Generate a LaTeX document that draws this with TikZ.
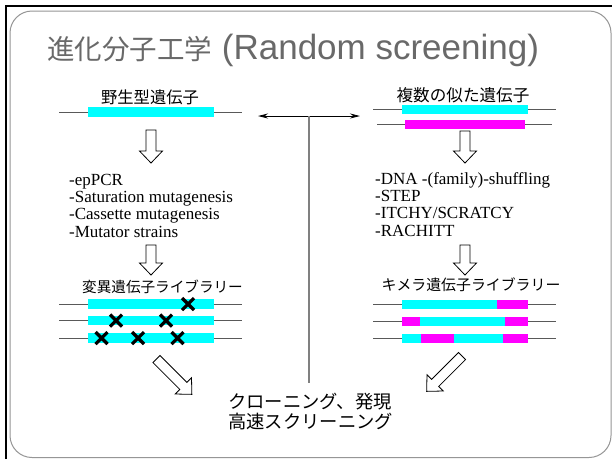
\documentclass[tikz,border=0pt]{standalone}
\usepackage{fontspec}
\setmainfont{Liberation Serif}
\newfontfamily\jp{Noto Sans CJK JP}
\newfontfamily\arialf{Liberation Sans}
\usetikzlibrary{arrows.meta}
\definecolor{cy}{RGB}{0,255,255}
\definecolor{mg}{RGB}{255,0,255}
\definecolor{titlegray}{RGB}{105,105,105}
\definecolor{framegray}{RGB}{150,150,150}
\tikzset{
  gline/.style={draw=black!65, line width=1},
  jplabel/.style={inner sep=0},
  method/.style={inner sep=0, anchor=base west, font=\fontsize{17}{17}\selectfont},
  hollow/.style={draw=black, fill=white, line width=0.8, line join=miter},
  pics/downarrow/.style={code={\draw[hollow] (-5,0) -- (-5,#1-12) -- (-11.5,#1-12) -- (0,#1) -- (11.5,#1-12) -- (5,#1-12) -- (5,0) -- cycle;}},
  pics/xmark/.style={code={\draw[line width=3.2] (-6,-6) -- (6,6) (-6,6) -- (6,-6);}},
  dtip/.style={{Stealth[length=10pt,width=5pt]}-{Stealth[length=10pt,width=5pt]}, line width=0.9},
}
\begin{document}
\begin{tikzpicture}[x=1pt,y=-1pt]
\useasboundingbox (0,0) rectangle (612,459);
\fill[white] (0,0) rectangle (612,459);
% frames
\draw[framegray, line width=1, rounded corners=22] (10,11) rectangle (611,457.5);
\draw[black, line width=2] (6,459) -- (6,6) -- (612,6);
% title
\node[inner sep=0, anchor=base west, text=titlegray] (title) at (47,59)
  {{\jp\fontsize{27.5}{32}\selectfont 進化分子工学}{\arialf\fontsize{35}{38}\selectfont\ (Random screening)}};
% left: wild type gene
\node[jplabel, font=\jp\fontsize{16.3}{18}\selectfont] (wt) at (150,97) {野生型遺伝子};
\draw[gline] (59,112) -- (242,112);
\fill[cy] (88,107) rectangle (214,116.5);
\pic at (151,130) {downarrow=33};
\node[method] (m1) at (69,185) {-epPCR};
\node[method] (m2) at (69,202) {-Saturation mutagenesis};
\node[method] (m3) at (69,219) {-Cassette mutagenesis};
\node[method] (m4) at (69,237) {-Mutator strains};
\pic at (151,245) {downarrow=30};
\node[jplabel, font=\jp\fontsize{14.6}{16}\selectfont] (mlib) at (162.5,287) {変異遺伝子ライブラリー};
\foreach \yy in {304,320.5,338}{
  \draw[gline] (59,\yy) -- (242,\yy);
  \fill[cy] (88,\yy-4.75) rectangle (214,\yy+4.75);
}
\pic at (188,304) {xmark};
\pic at (116,320.5) {xmark};
\pic at (166,320.5) {xmark};
\pic at (101.5,338) {xmark};
\pic at (138,338) {xmark};
\pic at (177.5,338) {xmark};
% right: similar genes
\node[jplabel, font=\jp\fontsize{16.6}{18}\selectfont] (sg) at (463,95) {複数の似た遺伝子};
\draw[gline] (373,109.3) -- (556,109.3);
\fill[cy] (402,105) rectangle (528,113.5);
\draw[gline] (377,124) -- (552,124);
\fill[mg] (405,119.7) rectangle (525,128.7);
\pic at (465,131) {downarrow=32};
\node[method] (r1) at (375,184) {-DNA -(family)-shuffling};
\node[method] (r2) at (375,201) {-STEP};
\node[method] (r3) at (375,218.5) {-ITCHY/SCRATCY};
\node[method] (r4) at (375,236) {-RACHITT};
\pic at (465,245) {downarrow=30};
\node[jplabel, font=\jp\fontsize{14.9}{16}\selectfont] (clib) at (471,285) {キメラ遺伝子ライブラリー};
\foreach \yy in {304,321,338}{
  \draw[gline] (373,\yy) -- (556,\yy);
}
\fill[cy] (402,299.5) rectangle (497,309);
\fill[mg] (497,299.5) rectangle (528,309);
\fill[mg] (402,316.5) rectangle (420,326);
\fill[cy] (420,316.5) rectangle (505,326);
\fill[mg] (505,316.5) rectangle (528,326);
\fill[cy] (402,333.5) rectangle (421,343);
\fill[mg] (421,333.5) rectangle (454,343);
\fill[cy] (454,333.5) rectangle (503,343);
\fill[mg] (503,333.5) rectangle (528,343);
% centre connectors
\coordinate (dl) at (258,116);
\coordinate (dr) at (360,116);
\coordinate (vt) at (309,116);
\coordinate (vb) at (309,383);
\draw[dtip] (dl) -- (dr);
\draw[black!50, line width=2] (vt) -- (vb);
% diagonal arrows
\pic[rotate=45] at (156.5,359) {downarrow=50};
\pic[rotate=-45] at (462,356) {downarrow=50};
% bottom text
\node[inner sep=0, anchor=west, align=left, font=\jp\fontsize{18.3}{20}\selectfont] (res) at (228,411.7)
  {クローニング、発現\\高速スクリーニング};
\end{tikzpicture}
\end{document}
